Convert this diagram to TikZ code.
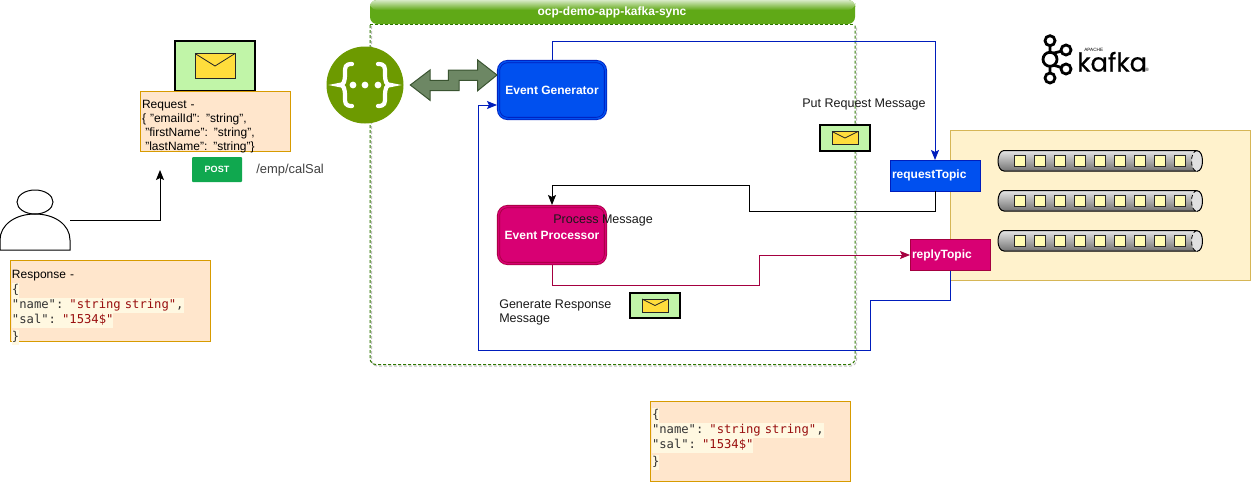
\documentclass[tikz,border=0pt]{standalone}
\usepackage{fontspec}
\setmainfont{Liberation Sans}
\newfontfamily\codefont{DejaVu Sans Mono}
\newfontfamily\logofont[FakeBold=0.5]{Poppins}
\usetikzlibrary{arrows.meta}
\def\px{0.75pt}
\definecolor{genBlue}{HTML}{0050EF}
\definecolor{genLine}{HTML}{001DBC}
\definecolor{procRed}{HTML}{D80073}
\definecolor{procLine}{HTML}{A50040}
\definecolor{noteFill}{HTML}{FFE6CC}
\definecolor{noteLine}{HTML}{D79B00}
\definecolor{panelFill}{HTML}{FFF2CC}
\definecolor{panelLine}{HTML}{D6B656}
\definecolor{ocpGreen}{HTML}{60A917}
\definecolor{ocpLine}{HTML}{2D7600}
\definecolor{apiGreen}{HTML}{6D9A00}
\definecolor{arrowFill}{HTML}{6D8764}
\definecolor{arrowLine}{HTML}{3A5431}
\definecolor{postGreen}{HTML}{10A84F}
\definecolor{mailGreen}{HTML}{C1F5A8}
\definecolor{mailYellow}{HTML}{FFDD3C}
\definecolor{codeBg}{HTML}{FFF8E1}
\definecolor{codeStr}{HTML}{990F0F}
\definecolor{codeKey}{HTML}{333333}
\newcommand{\codeline}[1]{\colorbox{codeBg}{\strut\color{codeKey}#1}}
\newcommand{\codestr}[1]{\textcolor{codeStr}{#1}}
\setlength{\fboxsep}{0pt}
\begin{document}
\begin{tikzpicture}[x=0.75pt,y=-0.75pt,
  txt/.style={font=\fontsize{9.4pt}{10.5pt}\selectfont,inner sep=0pt,align=left,text=black!90},
  proc/.style={rounded corners=9*\px,minimum width=107*\px,minimum height=57*\px,draw,double,double distance=1.5*\px,
    line width=0.8*\px,outer sep=1.5*\px,text=white,font=\fontsize{9pt}{10.5pt}\selectfont\bfseries},
  topic/.style={minimum height=31*\px,draw,outer sep=0pt,inner xsep=2*\px,inner ysep=0pt,text=white,anchor=west,align=left,
    font=\fontsize{9pt}{10.5pt}\selectfont\bfseries},
  note/.style={fill=noteFill,draw=noteLine,line width=1*\px,outer sep=0pt,inner xsep=2*\px,inner ysep=0pt,align=left,
    text width=196*\px,font=\fontsize{9pt}{10.5pt}\selectfont},
  mailbox/.style={fill=mailGreen,draw=black,outer sep=0pt,inner sep=0pt},
  envelope/.style={fill=mailYellow,draw=black!85,line width=0.8*\px,outer sep=0pt,inner sep=0pt},
  link/.style={line width=1*\px,-{Stealth[length=7.5pt,width=6pt,inset=1.5pt]}},
  cyl/.style={shade,top color=black!10,middle color=black!28,bottom color=black!55,draw=black,line width=1*\px}]
  \useasboundingbox (0,0) rectangle (1251,482);

  \draw[draw=black!25,line width=1*\px,dash pattern=on 3*\px off 2*\px,rounded corners=6*\px]
    (371.5,26) -- (371.5,366) -- (856.5,366) -- (856.5,26);
  \draw[draw=ocpLine,line width=1*\px,dash pattern=on 3*\px off 2*\px,rounded corners=6*\px]
    (370,25) -- (370,364.5) -- (855,364.5) -- (855,25);
  \fill[ocpGreen,rounded corners=7*\px] (370,24) -- (370,0) -- (855,0) -- (855,24) -- cycle;
  \shade[top color=ocpGreen!25,bottom color=ocpGreen,rounded corners=7*\px] (370,10) -- (370,0) -- (855,0) -- (855,10) -- cycle;
  \draw[draw=ocpLine,line width=1*\px,dash pattern=on 3*\px off 2*\px] (370,24.5) -- (855,24.5);
  \node[txt,text=white,font=\fontsize{9pt}{10.5pt}\selectfont\bfseries] (ocpTitle) at (612,12) {ocp-demo-app-kafka-sync};

  \node[draw=panelLine,fill=panelFill,line width=1*\px,minimum width=300*\px,minimum height=150*\px,outer sep=0pt] (kafkaPanel) at (1100,205) {};

  \foreach \y in {161,201,241}{
    \draw[cyl] (1197,\y-10.5) -- (1004,\y-10.5) .. controls (1000,\y-10.5) and (998,\y-5) .. (998,\y)
      .. controls (998,\y+5) and (1000,\y+10) .. (1004,\y+10) -- (1197,\y+10);
    \fill[black!12] (1197,\y) ellipse[x radius=5.5*\px,y radius=10.3*\px];
    \draw[line width=0.8*\px,densely dashed] (1197,\y-10.3) .. controls (1189.7,\y-10.3) and (1189.7,\y+10.3) .. (1197,\y+10.3);
    \draw[line width=1*\px] (1197,\y-10.3) .. controls (1204.3,\y-10.3) and (1204.3,\y+10.3) .. (1197,\y+10.3);
    \foreach \x in {1020,1040,...,1180}
      \draw[fill=yellow!30!white,draw=black!85,line width=1*\px] (\x-5.5,\y-5.5) rectangle (\x+5.5,\y+5.5);
  }

  \node[proc,draw=genLine,double=genBlue,fill=genBlue] (evtGen) at (552,90) {Event Generator};
  \node[proc,draw=procLine,double=procRed,fill=procRed] (evtProc) at (552,235) {Event Processor};
  \node[topic,fill=genBlue,draw=genLine,text width=86*\px] (reqTopic) at (890,175.5) {requestTopic};
  \node[topic,fill=procRed,draw=procLine,text width=76.5*\px] (replyTopic) at (910,255) {replyTopic};

  \draw[link,draw=genLine] (evtGen.north) -- ++(0,-19) -| (reqTopic.north);
  \draw[link,draw=black] (reqTopic.south) -- ++(0,20) -- ++(-186,0) -- ++(0,-26) -| (evtProc.north);
  \draw[link,draw=procLine] (evtProc.south) -- ++(0,20) -- ++(207,0) -- ++(0,-30) -- (replyTopic.west);
  \draw[link,draw=genLine] (replyTopic.south-|950,0) -- (950,300) -- (870,300) -- (870,350) -- (478,350) -- (478,105)
    -- ([yshift=-15*\px]evtGen.west);

  \node[circle,fill=apiGreen,minimum size=77*\px,inner sep=0pt] (swagger) at (365,85) {};
  \draw[white,line width=4.2*\px,line cap=round] (352,64) .. controls (345,64) and (345,67) .. (345,73)
    .. controls (345,82) and (344,85) .. (339,85) .. controls (344,85) and (345,88) .. (345,97)
    .. controls (345,103) and (345,106) .. (352,106);
  \draw[white,line width=4.2*\px,line cap=round] (378,64) .. controls (385,64) and (385,67) .. (385,73)
    .. controls (385,82) and (386,85) .. (391,85) .. controls (386,85) and (385,88) .. (385,97)
    .. controls (385,103) and (385,106) .. (378,106);
  \foreach \x in {353,365,378}
    \fill[white] (\x,85) circle[radius=3.4*\px];
  \draw[fill=arrowFill,draw=arrowLine,line width=1*\px]
    (410.3,85) -- (430,70) -- (430,80.3) -- (448.3,80.3) -- (448.3,70) -- (477.7,70) -- (477.7,60) -- (497,75)
    -- (477.7,90.7) -- (477.7,80.3) -- (459,80.3) -- (459,90.7) -- (430,90.7) -- (430,100.3) -- cycle;

  \node[draw=none,minimum width=70*\px,minimum height=60*\px,outer sep=0pt] (user) at (35,220) {};
  \draw[line width=1*\px,fill=white] (35,202) ellipse[x radius=18*\px,y radius=12*\px];
  \draw[line width=1*\px] (0,250) -- (0,240) .. controls (0,225) and (15,214) .. (35,214)
    .. controls (55,214) and (70,225) .. (70,240) -- (70,250) -- cycle;
  \coordinate (reqIn) at (160,170);
  \draw[link,draw=black] (user.east) -| (reqIn);

  \foreach \nm/\x/\y/\w/\h/\ew/\eh/\lw in {Req/215/66/80/50/40/25/2.4,Put/845/138/50/26/26/13/2,Resp/655/305.5/50/25/26/13/2}{
    \node[mailbox,line width=\lw*\px,minimum width=\w*\px,minimum height=\h*\px] (mail\nm) at (\x,\y) {};
    \node[envelope,minimum width=\ew*\px,minimum height=\eh*\px] (env\nm) at (\x,\y) {};
    \draw[line width=0.8*\px,draw=black!85] (env\nm.north west) -- (env\nm.center) -- (env\nm.north east);
  }

  \node[note,text width=146*\px,text height=12.75pt,text depth=32.25pt] (reqNote) at (215,121)
    {Request -\\\{ "emailId": "string",\\\hspace{2.5pt}"firstName": "string",\\\hspace{2.5pt}"lastName": "string"\}};
  \node[note,text height=13.5pt,text depth=47.25pt] (respNote) at (110,300.5)
    {Response -\\[0.6pt]{\codefont\fontsize{9.15pt}{11.25pt}\selectfont\codeline{\{}\\\codeline{"name": \codestr{"string string"},}\\\codeline{"sal": \codestr{"1534\$"}}\\\codeline{\}}}};
  \node[note,text height=13.25pt,text depth=46.75pt] (replyNote) at (750,441)
    {{\codefont\fontsize{9.15pt}{11.25pt}\selectfont\codeline{\{}\\\codeline{"name": \codestr{"string string"},}\\\codeline{"sal": \codestr{"1534\$"}}\\\codeline{\}}}};

  \node[fill=postGreen,rounded corners=1*\px,minimum width=50*\px,minimum height=25*\px,inner sep=0pt,text=white,
    font=\fontsize{6.8pt}{8pt}\selectfont\bfseries] (postTag) at (217,169.5) {POST};
  \node[txt,anchor=west,text=black!75,font=\fontsize{9.7pt}{10.5pt}\selectfont] (postPath) at (256,170) {/emp/calSal};
  \node[txt,anchor=west] (putLabel) at (802,104.5) {Put Request Message};
  \node[txt,anchor=west] (procLabel) at (553,220) {Process Message};
  \node[txt,anchor=north west] (respLabel) at (499,299) {Generate Response\\Message};

  \draw[line width=2.8*\px] (1050,40.7) -- (1050,78) (1050,54) -- (1066,50) (1050,64) -- (1066,69);
  \foreach \x/\y/\r in {1050/40.7/5,1050/59.3/7,1050/78/5,1066/50/5,1066/69/5}
    \draw[line width=2.8*\px,fill=white] (\x,\y) circle[radius=\r*\px];
  \node[inner sep=0pt,anchor=base west,font=\logofont\fontsize{19.3pt}{24pt}\selectfont] (kafkaLogo) at (1077,71.5) {kafka};
  \node[inner sep=0pt,anchor=base west,font=\fontsize{3.5pt}{4pt}\selectfont] (kafkaApache) at (1084,51) {APACHE};
  \node[inner sep=0pt,anchor=base west,font=\fontsize{3.5pt}{4pt}\selectfont] (kafkaReg) at (1145,71) {®};
\end{tikzpicture}
\end{document}
